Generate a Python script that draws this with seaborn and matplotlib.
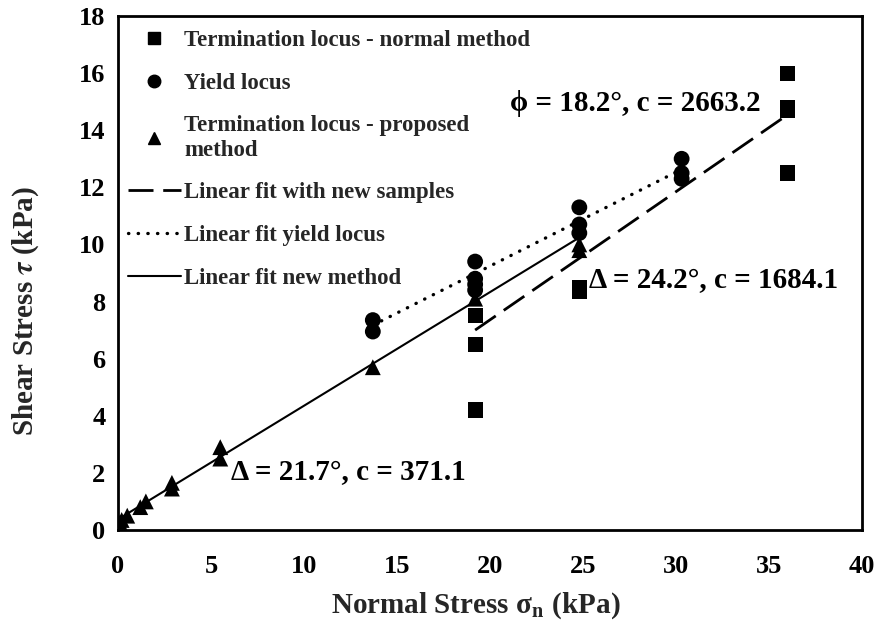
import numpy as np
import pandas as pd
import matplotlib
matplotlib.use("Agg")
import matplotlib.pyplot as plt
import seaborn as sns
from matplotlib.lines import Line2D

# =========================
# DATA
# =========================
normal_x = [19.2, 19.2, 19.2, 24.8, 24.8, 36.0, 36.0, 36.0, 36.0]
normal_y = [7.5, 6.5, 4.2, 8.5, 8.35, 16.0, 14.8, 14.7, 12.5]

yield_x = [13.7, 13.7, 19.2, 19.2, 19.2, 19.2, 24.8, 24.8, 24.8, 30.3, 30.3, 30.3]
yield_y = [7.35, 6.95, 9.4, 8.8, 8.6, 8.4, 11.3, 10.7, 10.4, 13.0, 12.5, 12.3]

proposed_x = [0.1, 0.2, 0.5, 1.2, 1.5, 2.9, 2.9, 5.5, 5.5, 13.7, 19.2, 24.8, 24.8]
proposed_y = [0.25, 0.35, 0.5, 0.8, 1.0, 1.65, 1.45, 2.9, 2.5, 5.7, 8.1, 10.0, 9.8]

# linear fits: slope, intercept, x range
fit_new_samples = (0.449, -1.62, 19.2, 36.0)
fit_yield = (0.329, 2.663, 13.7, 30.3)
fit_new_method = (0.398, 0.371, 0.0, 24.8)

labels = ["Termination locus - normal method",
          "Yield locus",
          "Termination locus - proposed\nmethod",
          "Linear fit with new samples",
          "Linear fit yield locus",
          "Linear fit new method"]

annotations = [("\u03d5 = 18.2\u00b0, c = 2663.2", 21.1, 14.95),
               ("\u0394 = 24.2\u00b0, c = 1684.1", 25.3, 8.75),
               ("\u0394 = 21.7\u00b0, c = 371.1", 6.05, 2.0)]

# =========================
# STYLE
# =========================
sns.set_style("white")
plt.rcParams['font.family'] = ['Liberation Serif', 'DejaVu Serif']
plt.rcParams['font.weight'] = 'bold'
plt.rcParams['mathtext.fontset'] = 'stix'

fig = plt.figure(figsize=(8.77, 6.26), dpi=100)
ax = fig.add_axes([0.1345, 0.1534, 0.8485, 0.821])

# =========================
# POINTS
# =========================
sns.scatterplot(x=normal_x, y=normal_y, marker="s", s=120, color="black",
                edgecolor="none", ax=ax)
sns.scatterplot(x=yield_x, y=yield_y, marker="o", s=130, color="black",
                edgecolor="none", ax=ax)
sns.scatterplot(x=proposed_x, y=proposed_y, marker="^", s=130, color="black",
                edgecolor="none", ax=ax)

# =========================
# FIT LINES
# =========================
def fit_frame(fit):
    m, b, x0, x1 = fit
    xs = np.array([x0, x1])
    return pd.DataFrame({"x": xs, "y": m * xs + b})

d1 = fit_frame(fit_new_samples)
d2 = fit_frame(fit_yield)
d3 = fit_frame(fit_new_method)

dash_style = (0, (9, 3.5))
dot_style = (0, (0.1, 2.8))

sns.lineplot(data=d1, x="x", y="y", color="black", lw=2.0,
             linestyle=dash_style, ax=ax)
sns.lineplot(data=d2, x="x", y="y", color="black", lw=2.4,
             linestyle=dot_style, dash_capstyle="round", ax=ax)
sns.lineplot(data=d3, x="x", y="y", color="black", lw=1.5, ax=ax)

# =========================
# AXES
# =========================
ax.set_xlim(0, 40)
ax.set_ylim(0, 18)
ax.set_xticks(range(0, 41, 5))
ax.set_yticks(range(0, 19, 2))
ax.tick_params(direction="in", length=7, width=1.2, labelsize=19,
               colors="black")
ax.tick_params(axis="x", pad=18)
ax.tick_params(axis="y", pad=9)
for lab in ax.get_xticklabels() + ax.get_yticklabels():
    lab.set_fontweight("bold")
for sp in ax.spines.values():
    sp.set_linewidth(2.0)
    sp.set_color("black")

ax.set_xlabel("Normal Stress \u03c3$_\\mathbf{n}$ (kPa)",
              fontsize=21, fontweight="bold")
ax.set_ylabel(r"Shear Stress $\boldsymbol{\tau}$ (kPa)",
              fontsize=21, fontweight="bold")
ax.xaxis.set_label_coords(0.481, -0.118)
ax.yaxis.set_label_coords(-0.103, 0.426)

for txt, tx, ty in annotations:
    ax.text(tx, ty, txt, fontsize=21, fontweight="bold", color="black",
            va="center", family=['Liberation Serif', 'DejaVu Serif'])

# =========================
# LEGEND
# =========================
handles = [
    Line2D([], [], marker="s", color="black", linestyle="none", markersize=8),
    Line2D([], [], marker="o", color="black", linestyle="none", markersize=9),
    Line2D([], [], marker="^", color="black", linestyle="none", markersize=8),
    Line2D([], [], color="black", lw=2.0, linestyle=dash_style),
    Line2D([], [], color="black", lw=2.4, linestyle=dot_style,
           dash_capstyle="round"),
    Line2D([], [], color="black", lw=1.5),
]
leg = ax.legend(handles, labels, loc="upper left", frameon=False,
                prop={"size": 16.5, "weight": "bold"},
                bbox_to_anchor=(-0.005, 1.0), handlelength=2.3,
                handletextpad=0.15, labelspacing=0.95, borderaxespad=0.2)

fig.savefig("out.png", dpi=100)
